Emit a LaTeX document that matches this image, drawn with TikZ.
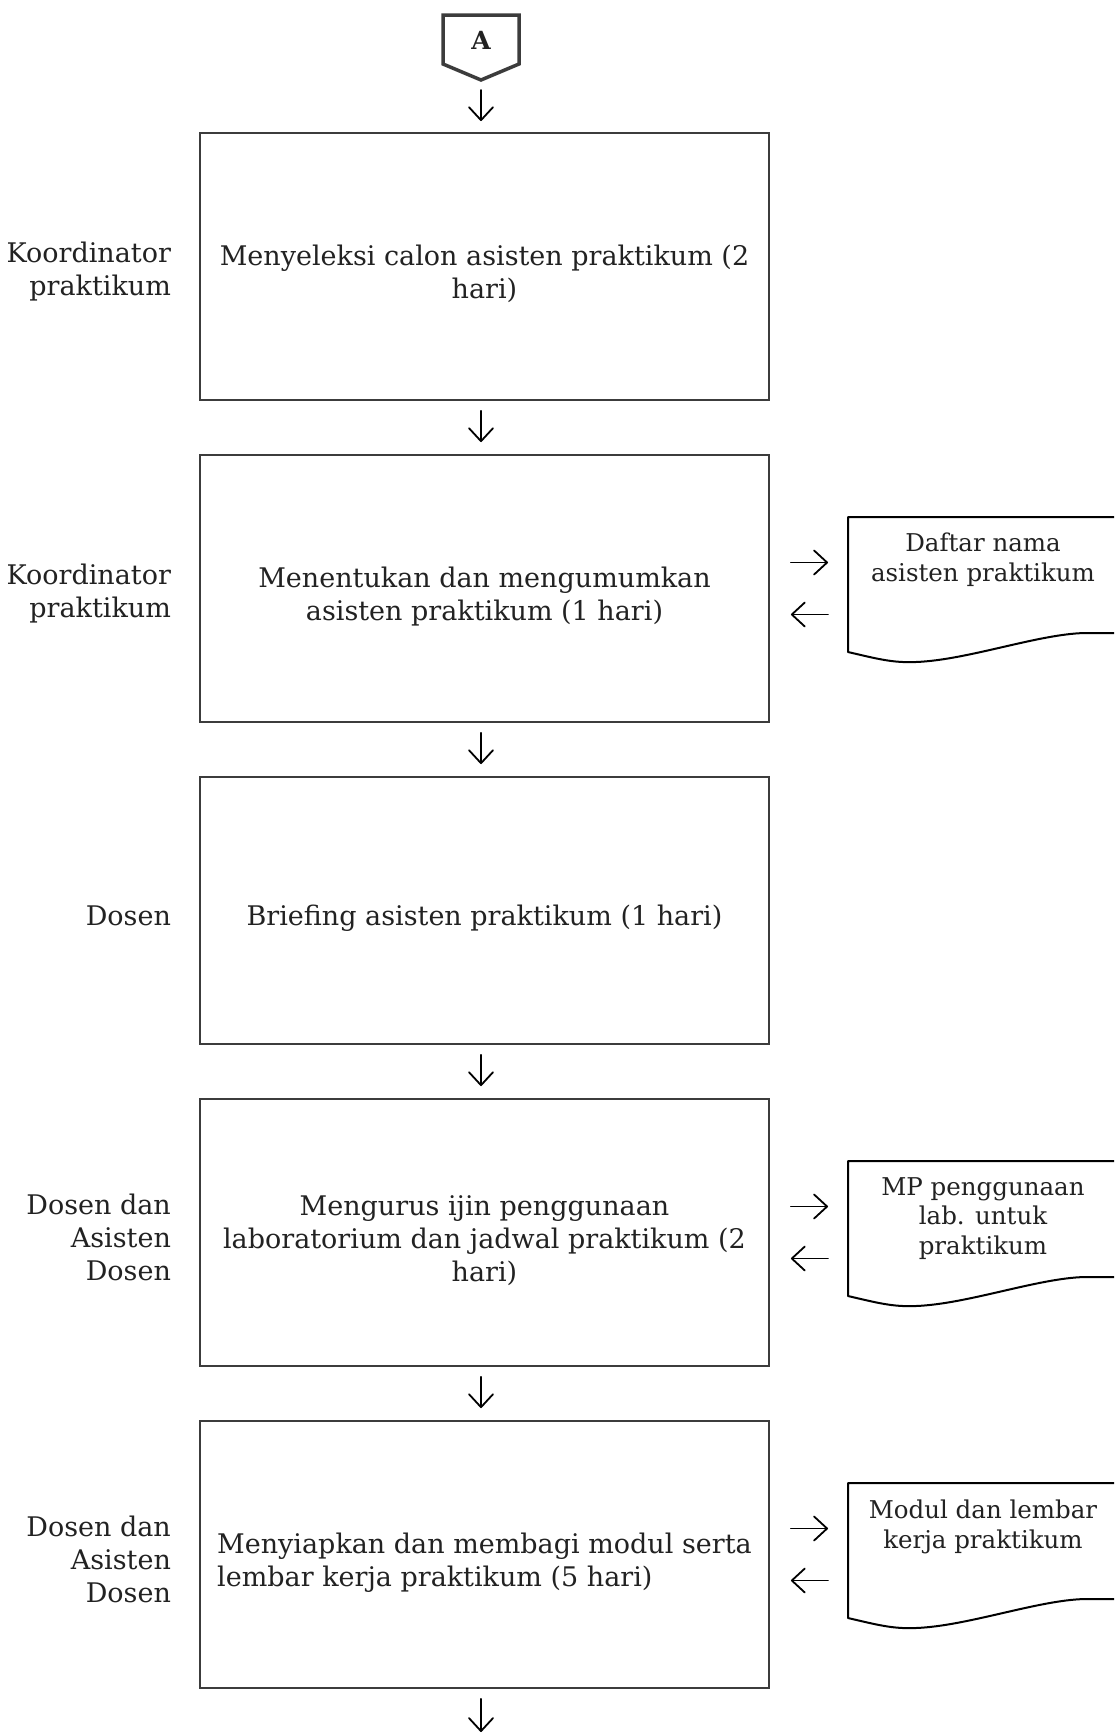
\documentclass[tikz,border=0pt]{standalone}
\usepackage{fontspec}
\setmainfont{DejaVu Serif}
\usetikzlibrary{arrows.meta,calc}
\definecolor{ink}{HTML}{222222}
\definecolor{frame}{HTML}{3C3C3C}
% taller first line, so the text sits a little below the box centre
\newcommand\firstline{\rule{0pt}{36pt}}
\begin{document}
\begin{tikzpicture}[x=1pt,y=-1pt,
  stepbox/.style={draw=frame, line width=1.8pt, minimum width=569pt, minimum height=267pt,
    align=center, text=ink, font=\fontsize{27}{33}\selectfont, inner sep=0pt},
  role/.style={anchor=east, align=right, text=ink, font=\fontsize{27}{33}\selectfont, inner sep=0pt},
  doctext/.style={anchor=north, align=center, text=ink, font=\fontsize{24.5}{29.5}\selectfont, inner sep=0pt},
  docline/.style={draw=black, line width=2pt, line join=round},
  flow/.style={draw=black, line width=1.8pt, line cap=round,
    -{Straight Barb[length=13pt,width=24pt,round]}},
]
\fill[white] (0,0) rectangle (1114,1735);
\useasboundingbox (0,0) rectangle (1114,1735);

% off-page connector
\draw[draw=frame, line width=3.5pt, line join=miter]
  (443,15) -- (519,15) -- (519,64) -- (481,80) -- (443,64) -- cycle;
\node[text=ink, font=\fontsize{25}{25}\selectfont\bfseries, inner sep=0pt] (A) at (481,40) {A};
\coordinate (Atip) at (481,80);

% process steps
\node[stepbox] (b1) at (484.5,266.5) {\firstline Menyeleksi calon asisten praktikum (2\\hari)};
\node[stepbox] (b2) at (484.5,588.5) {\firstline Menentukan dan mengumumkan\\asisten praktikum (1 hari)};
\node[stepbox] (b3) at (484.5,910.5) {\firstline Briefing asisten praktikum (1 hari)};
\node[stepbox] (b4) at (484.5,1232.5) {\firstline Mengurus ijin penggunaan\\laboratorium dan jadwal praktikum (2\\hari)};
\node[stepbox, align=left] (b5) at (484.5,1554.5) {\firstline Menyiapkan dan membagi modul serta\\lembar kerja praktikum (5 hari)};

% responsible parties
\node[role] (r1) at ($(b1.west)+(-28,5)$) {Koordinator\\praktikum};
\node[role] (r2) at ($(b2.west)+(-28,5)$) {Koordinator\\praktikum};
\node[role] (r3) at ($(b3.west)+(-28,5)$) {Dosen};
\node[role] (r4) at ($(b4.west)+(-28,5)$) {Dosen dan\\Asisten\\Dosen};
\node[role] (r5) at ($(b5.west)+(-28,5)$) {Dosen dan\\Asisten\\Dosen};

% main flow
\draw[flow] ($(Atip)+(0,10)$) -- ($(b1.north -| Atip)+(0,-11)$);
\draw[flow] ($(b1.south -| Atip)+(0,10)$) -- ($(b2.north -| Atip)+(0,-12)$);
\draw[flow] ($(b2.south -| Atip)+(0,10)$) -- ($(b3.north -| Atip)+(0,-12)$);
\draw[flow] ($(b3.south -| Atip)+(0,10)$) -- ($(b4.north -| Atip)+(0,-12)$);
\draw[flow] ($(b4.south -| Atip)+(0,10)$) -- ($(b5.north -| Atip)+(0,-12)$);
\coordinate (next) at (481,1732);
\draw[flow] ($(b5.south -| next)+(0,10)$) -- (next);

% documents
\coordinate (d1) at (848,517);
\coordinate (d2) at (848,1161);
\coordinate (d3) at (848,1483);
\foreach \d in {d1,d2,d3}{
  \draw[docline] ($(\d)+(266,0)$) -- (\d) -- ($(\d)+(0,135)$)
    .. controls ($(\d)+(30,142)$) and ($(\d)+(45,146)$) .. ($(\d)+(68,145)$)
    .. controls ($(\d)+(120,143)$) and ($(\d)+(190,117)$) .. ($(\d)+(237,116)$)
    -- ($(\d)+(266,116)$);
}
\node[doctext] (t1) at ($(d1)+(135,16)$) {Daftar nama\\asisten praktikum};
\node[doctext] (t2) at ($(d2)+(135,16)$) {MP penggunaan\\lab. untuk\\praktikum};
\node[doctext] (t3) at ($(d3)+(135,17)$) {Modul dan lembar\\kerja praktikum};

% exchanges with documents
\foreach \b/\d in {b2/d1,b4/d2,b5/d3}{
  \draw[flow] ($(\b.east)+(21,-26)$) -- ($(\b.east -| \d)+(-20,-26)$);
  \draw[flow] ($(\b.east -| \d)+(-20,26)$) -- ($(\b.east)+(21,26)$);
}
\end{tikzpicture}
\end{document}
